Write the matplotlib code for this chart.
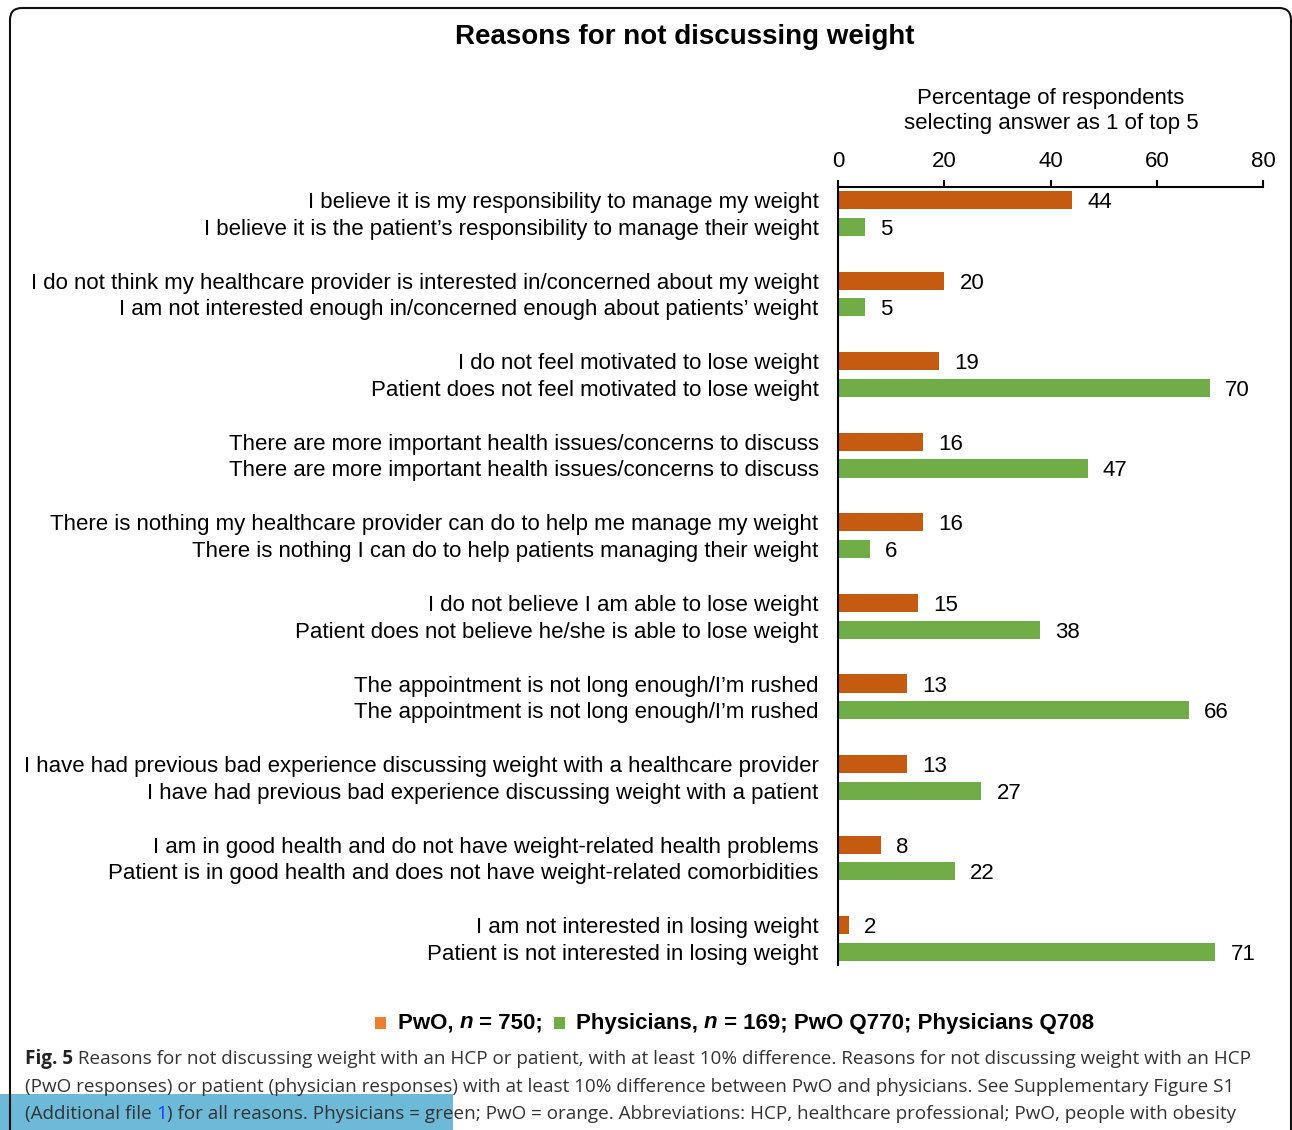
#!/usr/bin/env python3
# plot.py

import matplotlib

matplotlib.use("Agg")
import matplotlib.pyplot as plt
import numpy as np
from matplotlib.patches import FancyBboxPatch, Rectangle
from matplotlib.transforms import IdentityTransform

pwo_labels = [
    "I believe it is my responsibility to manage my weight",
    "I do not think my healthcare provider is interested in/concerned about my weight",
    "I do not feel motivated to lose weight",
    "There are more important health issues/concerns to discuss",
    "There is nothing my healthcare provider can do to help me manage my weight",
    "I do not believe I am able to lose weight",
    "The appointment is not long enough/I\u2019m rushed",
    "I have had previous bad experience discussing weight with a healthcare provider",
    "I am in good health and do not have weight-related health problems",
    "I am not interested in losing weight",
]
phys_labels = [
    "I believe it is the patient\u2019s responsibility to manage their weight",
    "I am not interested enough in/concerned enough about patients\u2019 weight",
    "Patient does not feel motivated to lose weight",
    "There are more important health issues/concerns to discuss",
    "There is nothing I can do to help patients managing their weight",
    "Patient does not believe he/she is able to lose weight",
    "The appointment is not long enough/I\u2019m rushed",
    "I have had previous bad experience discussing weight with a patient",
    "Patient is in good health and does not have weight-related comorbidities",
    "Patient is not interested in losing weight",
]
pwo_values = [44, 20, 19, 16, 16, 15, 13, 13, 8, 2]
phys_values = [5, 5, 70, 47, 6, 38, 66, 27, 22, 71]
x_ticks = [0, 20, 40, 60, 80]

W, H = 1292, 1130
ORANGE = "#C55A11"
GREEN = "#70AD47"
LEGEND_ORANGE = "#ED7D31"
FONT = ["Liberation Sans", "DejaVu Sans"]
FS = 16


def fx(x):
    return x / W


def fy(y):
    return 1 - y / H


def plot(ax):
    pos = np.arange(len(pwo_values))
    off = 0.165
    bars_o = ax.barh(pos - off, pwo_values, height=0.224, color=ORANGE)
    bars_g = ax.barh(pos + off, phys_values, height=0.224, color=GREEN)
    for bars in (bars_o, bars_g):
        for t in ax.bar_label(bars, padding=11, fontsize=FS, family=FONT):
            t.set_verticalalignment("center_baseline")

    ax.set_xlim(0, 80)
    ax.set_ylim(9.33, -0.33)
    ax.set_xticks(x_ticks)
    ax.xaxis.tick_top()
    ax.tick_params(axis="x", direction="out", length=5, width=1.5, pad=5.5, labelsize=FS)
    for t in ax.get_xticklabels():
        t.set_family(FONT)

    ypos = np.concatenate([pos - off, pos + off])
    ax.set_yticks(ypos, pwo_labels + phys_labels)
    ax.tick_params(axis="y", length=0, pad=14, labelsize=FS)
    for t in ax.get_yticklabels():
        t.set_family(FONT)

    ax.spines["right"].set_visible(False)
    ax.spines["bottom"].set_visible(False)
    ax.spines["left"].set_linewidth(1.5)
    ax.spines["top"].set_linewidth(1.5)


def write_runs(fig, renderer, x, y, runs):
    # draw text pieces one after another along a line (pixel coords)
    for s, kw in runs:
        t = fig.text(fx(x), fy(y), s, ha="left", va="center", **kw)
        x += t.get_window_extent(renderer).width
    return x


def main():
    fig = plt.figure(figsize=(W / 100, H / 100), dpi=100)

    # highlight box behind the last caption line
    fig.add_artist(Rectangle((0, 0), 453, 1130 - 1094, transform=IdentityTransform(),
                             facecolor="#6DB9D8", edgecolor="none", zorder=0))
    # rounded frame
    fig.add_artist(FancyBboxPatch((10, -80), 1281, H - 8 + 80,
                                  boxstyle="round,pad=0,rounding_size=12",
                                  transform=IdentityTransform(), facecolor="none",
                                  edgecolor="#111111", linewidth=1.5, zorder=5))

    ax = fig.add_axes([fx(838), fy(965), fx(1263) - fx(838), fy(187) - fy(965)])
    plot(ax)

    fig.text(fx(685), fy(37), "Reasons for not discussing weight", ha="center", va="center",
             fontsize=20, fontweight="bold", family=FONT)
    fig.text(fx(1051), fy(111), "Percentage of respondents\nselecting answer as 1 of top 5",
             ha="center", va="center", fontsize=FS, linespacing=1.2, family=FONT)

    renderer = fig.canvas.get_renderer()

    # legend
    fig.add_artist(Rectangle((375, H - 1029), 11, 12, transform=IdentityTransform(),
                             facecolor=LEGEND_ORANGE, edgecolor="none"))
    fig.add_artist(Rectangle((554, H - 1029), 11, 12, transform=IdentityTransform(),
                             facecolor=GREEN, edgecolor="none"))
    lg = dict(fontsize=16, fontweight="bold", family=FONT)
    lgi = dict(lg, style="italic")
    write_runs(fig, renderer, 398, 1023, [("PwO, ", lg), ("n", lgi), (" = 750;", lg)])
    write_runs(fig, renderer, 576, 1023, [("Physicians, ", lg), ("n", lgi),
                                          (" = 169; PwO Q770; Physicians Q708", lg)])

    # caption
    cap = dict(fontsize=12, color="#333333", family=["Open Sans", "DejaVu Sans"])
    capb = dict(cap, fontweight="bold", color="#222222")
    line1 = (" Reasons for not discussing weight with an HCP or patient, with at least 10% "
             "difference. Reasons for not discussing weight with an HCP")
    probe = fig.text(0, 0, "Fig. 5" + line1, **cap)
    scale = 1218 / probe.get_window_extent(renderer).width
    probe.remove()
    cap["fontsize"] = 12 * scale
    capb["fontsize"] = 12 * scale
    capl = dict(cap, color="#1a3cff")

    write_runs(fig, renderer, 25, 1059, [("Fig. 5", capb), (line1, cap)])
    write_runs(fig, renderer, 25, 1087, [(
        "(PwO responses) or patient (physician responses) with at least 10% difference "
        "between PwO and physicians. See Supplementary Figure S1", cap)])
    write_runs(fig, renderer, 25, 1114, [
        ("(Additional file ", cap), ("1", capl),
        (") for all reasons. Physicians = green; PwO = orange. Abbreviations: HCP, "
         "healthcare professional; PwO, people with obesity", cap)])

    fig.savefig("out.png", dpi=100)


if __name__ == "__main__":
    main()
